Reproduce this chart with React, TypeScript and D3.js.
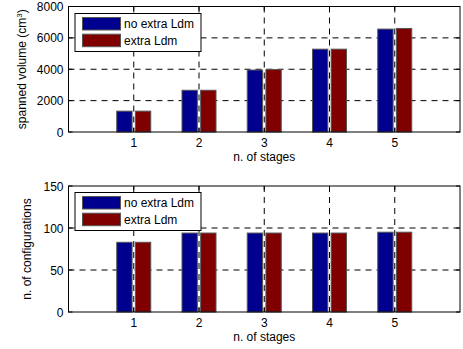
import React from "react";
import * as d3 from "d3";

// Number of stages on the x axis
const stages = [1, 2, 3, 4, 5];
const seriesNames = ["no extra Ldm", "extra Ldm"];
const seriesColors = ["#00008f", "#800000"];

// Spanned volume (cm^3)
const volumeNoExtra = [1330, 2660, 3950, 5280, 6560];
const volumeExtra = [1330, 2660, 3980, 5280, 6600];

// Number of configurations
const configsNoExtra = [83, 94, 94, 94, 95];
const configsExtra = [83, 94, 94, 94, 95];

const volumeTicks = [0, 2000, 4000, 6000, 8000];
const configTicks = [0, 50, 100, 150];

const W = 463;
const H = 349;
const FONT = "Liberation Sans, Arial, Helvetica, sans-serif";
const FS = 12;

type PanelProps = {
  top: number;
  bottom: number;
  yMax: number;
  yTicks: number[];
  values: number[][];
  yLabel: React.ReactNode;
  yLabelX: number;
  legendTop: number;
};

function Panel({ top, bottom, yMax, yTicks, values, yLabel, yLabelX, legendTop }: PanelProps) {
  const left = 68.5;
  const right = 460;
  const x = d3.scaleLinear().domain([0, 6]).range([left, right]);
  const y = d3.scaleLinear().domain([0, yMax]).range([bottom, top]);
  const offsets = [-0.143, 0.143];
  const bw = 0.235;
  const tickLen = 4;

  return (
    <g>
      {/* dashed grid */}
      {stages.map((s) => (
        <line key={"gx" + s} x1={x(s)} x2={x(s)} y1={top} y2={bottom}
          stroke="#000" strokeWidth={1} strokeDasharray="6,5" />
      ))}
      {yTicks.slice(1, -1).map((t) => (
        <line key={"gy" + t} x1={left} x2={right} y1={y(t)} y2={y(t)}
          stroke="#000" strokeWidth={1} strokeDasharray="6,5" />
      ))}
      {/* bars */}
      {values.map((vals, si) =>
        vals.map((v, i) => {
          const cx = stages[i] + offsets[si];
          const x0 = x(cx - bw / 2);
          const x1 = x(cx + bw / 2);
          return (
            <rect key={si + "-" + i} x={x0} y={y(v)} width={x1 - x0} height={y(0) - y(v)}
              fill={seriesColors[si]} stroke="#555" strokeWidth={1} />
          );
        })
      )}
      {/* axes box */}
      <rect x={left} y={top} width={right - left} height={bottom - top}
        fill="none" stroke="#000" strokeWidth={1} />
      {/* ticks */}
      {stages.map((s) => (
        <g key={"tx" + s}>
          <line x1={x(s)} x2={x(s)} y1={bottom} y2={bottom - tickLen} stroke="#000" />
          <line x1={x(s)} x2={x(s)} y1={top} y2={top + tickLen} stroke="#000" />
          <text x={x(s)} y={bottom + 15} textAnchor="middle" fontSize={FS} fontFamily={FONT}>{s}</text>
        </g>
      ))}
      {yTicks.map((t) => (
        <g key={"ty" + t}>
          <line x1={left} x2={left + tickLen} y1={y(t)} y2={y(t)} stroke="#000" />
          <line x1={right} x2={right - tickLen} y1={y(t)} y2={y(t)} stroke="#000" />
          <text x={left - 5} y={y(t) + 4.5} textAnchor="end" fontSize={FS} fontFamily={FONT}>{t}</text>
        </g>
      ))}
      <text x={(left + right) / 2} y={bottom + 29} textAnchor="middle" fontSize={FS} fontFamily={FONT}>
        n. of stages
      </text>
      <text transform={`translate(${yLabelX},${(top + bottom) / 2}) rotate(-90)`} textAnchor="middle"
        fontSize={FS} fontFamily={FONT}>
        {yLabel}
      </text>
      {/* legend */}
      <g transform={`translate(75,${legendTop})`}>
        <rect x={0} y={0} width={126} height={38} fill="#fff" stroke="#000" strokeWidth={1} />
        {seriesNames.map((n, i) => (
          <g key={n} transform={`translate(0,${i * 16.7})`}>
            <rect x={7.5} y={4} width={38} height={12.5} fill={seriesColors[i]} stroke="#555" />
            <text x={49} y={14.5} fontSize={FS} fontFamily={FONT}>{n}</text>
          </g>
        ))}
      </g>
    </g>
  );
}

export default function App() {
  return (
    <svg width={W} height={H} style={{ display: "block", position: "absolute", left: 0, top: 0, background: "#fff" }}>
      <rect width={W} height={H} fill="#fff" />
      <Panel top={6.5} bottom={132} yMax={8000} yTicks={volumeTicks}
        values={[volumeNoExtra, volumeExtra]} yLabelX={26} legendTop={13.5}
        yLabel={<>spanned volume (cm<tspan dy={-4} fontSize={8}>3</tspan><tspan dy={4}>)</tspan></>} />
      <Panel top={186} bottom={312} yMax={150} yTicks={configTicks}
        values={[configsNoExtra, configsExtra]} yLabelX={31} legendTop={192.5}
        yLabel="n. of configurations" />
    </svg>
  );
}
